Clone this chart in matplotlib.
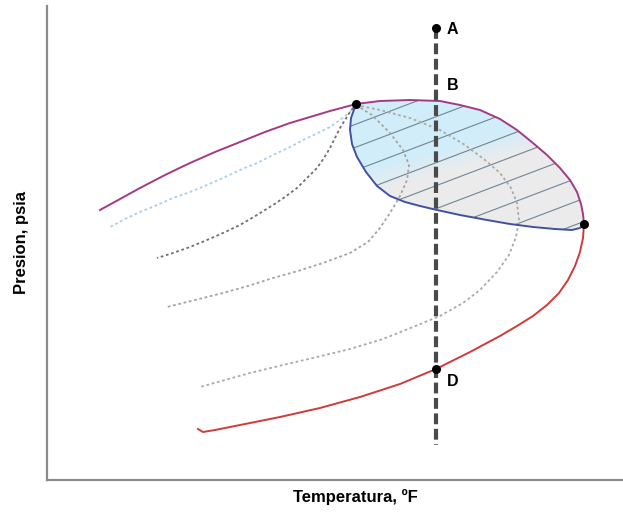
import matplotlib.pyplot as plt
import numpy as np
from matplotlib.patches import Polygon

# curves, in picture units (x right, y down)
dew_upper_x = [100, 120, 140, 165, 190, 215, 240, 265, 290, 310, 330, 345, 356,
               380, 410, 440, 460, 480, 500, 517, 533, 547, 560, 570, 577, 581, 583, 584]
dew_upper_y = [210, 199, 188, 175, 163, 152, 142, 132, 123, 117, 111, 107, 104,
               101, 100, 101, 105, 110, 119, 130, 143, 155, 168, 180, 192, 204, 214, 224]

dew_lower_x = [584, 583, 580, 575, 568, 559, 547, 533, 517, 500, 470, 436, 400, 360, 320, 280, 245, 215, 203, 198]
dew_lower_y = [224, 238, 252, 266, 280, 293, 305, 316, 326, 336, 352, 369, 384, 397, 408, 417, 424, 430, 432, 429]

bubble_x = [356, 351, 350, 352, 357, 366, 377, 390, 405, 420, 437, 460, 487, 510, 533, 555, 572, 580, 584]
bubble_y = [104, 118, 130, 144, 157, 172, 186, 196, 202, 206, 210, 215, 220, 224, 227, 229, 230, 228, 224]

quality_lines = {
    "q1": ([354, 350, 340, 330, 318, 307, 290, 273, 257, 240, 223, 207, 190, 173, 157, 140, 125, 110],
           [106, 112, 120, 127, 133, 138, 147, 155, 163, 170, 178, 185, 192, 198, 205, 212, 219, 227]),
    "q2": ([353, 350, 345, 340, 335, 330, 324, 317, 307, 297, 285, 273, 257, 240, 223, 207, 190, 173, 157],
           [108, 112, 120, 128, 138, 148, 158, 168, 178, 188, 197, 205, 215, 225, 233, 240, 247, 253, 258]),
    "q3": ([356, 372, 390, 403, 409, 407, 400, 390, 380, 368, 350, 323, 298, 273, 248, 223, 195, 167],
           [105, 115, 133, 150, 165, 180, 196, 213, 228, 242, 253, 263, 271, 278, 286, 293, 300, 307]),
    "q4": ([356, 380, 410, 440, 465, 485, 500, 511, 517, 519, 516, 509, 497, 480, 463, 440, 413, 383, 350, 317, 283, 250, 225, 200],
           [105, 110, 118, 130, 145, 160, 173, 188, 203, 220, 237, 255, 272, 290, 303, 316, 327, 339, 349, 357, 365, 373, 380, 387]),
}
quality_colors = {"q1": "#a9cfe6", "q2": "#6e6e6e", "q3": "#a3a3a3", "q4": "#aaaaa2"}

path_x = 436
path_top_y = 28
path_bottom_y = 445
point_labels = ["A", "B", "D"]
point_label_y = [30, 85, 382]
dots_x = [436, 356, 584, 436]
dots_y = [28, 104, 224, 369]


def main() -> None:
    fig = plt.figure(figsize=(6.23, 5.14), dpi=100)
    ax = fig.add_axes([47 / 623, 34 / 514, 1 - 47 / 623, 1 - 40 / 514])
    ax.set_xlim(47, 623)
    ax.set_ylim(480, 6)

    # two-phase region: between upper dew curve (from critical point) and bubble curve
    i_crit = dew_upper_x.index(356)
    top_x = dew_upper_x[i_crit:]
    top_y = dew_upper_y[i_crit:]
    poly_xy = list(zip(top_x, top_y)) + list(zip(bubble_x[::-1], bubble_y[::-1]))
    region = Polygon(poly_xy, closed=True, facecolor="none", edgecolor="none")
    ax.add_patch(region)

    # light blue on the upper-left, grey towards the lower-right
    gx, gy = np.meshgrid(np.linspace(345, 590, 300), np.linspace(98, 232, 200))
    edge = 180 - 0.26 * (gx - 370)
    t = np.clip((gy - edge) / 26 + 0.5, 0, 1)[..., None]
    blue = np.array([0.82, 0.93, 0.98])
    gray = np.array([0.925, 0.925, 0.925])
    img = blue * (1 - t) + gray * t
    im = ax.imshow(img, extent=(345, 590, 232, 98), origin="upper", aspect="auto",
                   interpolation="bilinear", zorder=1)
    im.set_clip_path(region)

    for off in np.arange(-300, 400, 23):
        xs = np.array([330, 600])
        ys = 250 + off - 0.38 * (xs - 330)
        (ln,) = ax.plot(xs, ys, color="#708593", lw=0.8, zorder=2)
        ln.set_clip_path(region)

    for key, (qx, qy) in quality_lines.items():
        ax.plot(qx, qy, color=quality_colors[key], lw=1.3, ls=(0, (1.5, 1.5)), zorder=3)

    ax.plot(dew_upper_x, dew_upper_y, color="#a33a86", lw=1.4, zorder=4)
    ax.plot(dew_lower_x, dew_lower_y, color="#cf3a3a", lw=1.4, zorder=4)
    ax.plot(bubble_x, bubble_y, color="#4250a2", lw=1.4, zorder=4)

    ax.plot([path_x, path_x], [path_top_y, path_bottom_y], color="#4a4a4a", lw=3,
            ls=(0, (2.6, 1.1)), zorder=5)
    ax.scatter(dots_x, dots_y, s=30, color="black", zorder=6)

    for label, ly in zip(point_labels, point_label_y):
        ax.text(path_x + 11, ly, label, fontsize=11.5, fontweight="bold",
                family="Liberation Sans", ha="left", va="center", zorder=7)

    for side in ["top", "right"]:
        ax.spines[side].set_visible(False)
    for side in ["left", "bottom"]:
        ax.spines[side].set_color("#8a8a8a")
        ax.spines[side].set_linewidth(1.6)
    ax.set_xticks([])
    ax.set_yticks([])

    fig.text(355 / 623, 1 - 497 / 514, "Temperatura, ºF", fontsize=12, fontweight="bold",
             family="Liberation Sans", ha="center", va="center")
    fig.text(22 / 623, 1 - 242 / 514, "Presion, psia", fontsize=12, fontweight="bold",
             family="Liberation Sans", ha="center", va="center", rotation=90)

    fig.savefig("out.png", dpi=100)


if __name__ == "__main__":
    main()
